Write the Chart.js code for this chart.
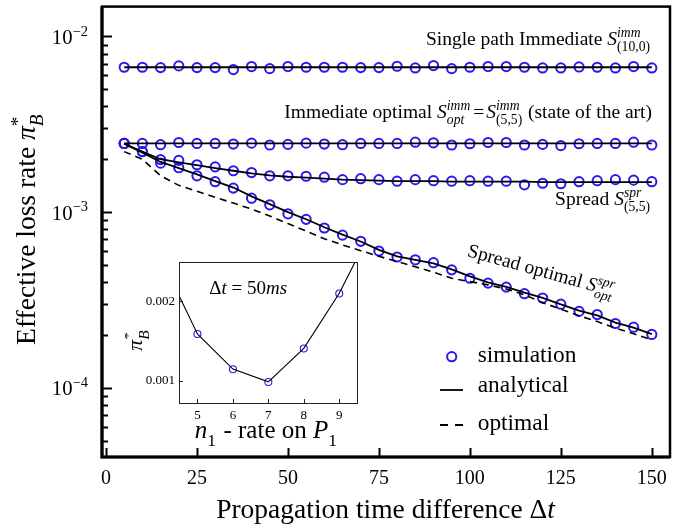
<!DOCTYPE html>
<html>
<head>
<meta charset="utf-8">
<script src="https://cdn.jsdelivr.net/npm/chart.js@4.4.0/dist/chart.umd.min.js"></script>
<style>
  html, body { margin: 0; padding: 0; background: #fff; }
  #wrap { position: relative; width: 697px; height: 529px; }
  #mainChart { position: absolute; left: 0; top: 0; }
  #insetChart { position: absolute; left: 125px; top: 250px; }
</style>
</head>
<body>
<div id="wrap">
  <canvas id="mainChart" width="697" height="529"></canvas>
  <canvas id="insetChart" width="245" height="200"></canvas>
</div>
<script>
// values in units of 1e-3
const UNIT = 1e-3;
const deltaT = [5, 10, 15, 20, 25, 30, 35, 40, 45, 50, 55, 60, 65, 70, 75, 80, 85, 90, 95, 100, 105, 110, 115, 120, 125, 130, 135, 140, 145, 150];

// Single path Immediate S(10,0)
const singleAnalytic = [6.68, 6.68, 6.68, 6.68, 6.68, 6.68, 6.68, 6.68, 6.68, 6.68, 6.68, 6.68, 6.68, 6.68, 6.68, 6.68, 6.68, 6.68, 6.68, 6.68, 6.68, 6.68, 6.68, 6.68, 6.68, 6.68, 6.68, 6.68, 6.68, 6.68];
const singleSim = [6.68, 6.68, 6.65, 6.80, 6.65, 6.65, 6.48, 6.74, 6.56, 6.74, 6.68, 6.68, 6.68, 6.65, 6.65, 6.77, 6.62, 6.83, 6.56, 6.68, 6.74, 6.74, 6.68, 6.62, 6.62, 6.71, 6.68, 6.62, 6.74, 6.62];

// Immediate optimal = S(5,5)
const immOptAnalytic = [2.46, 2.46, 2.46, 2.46, 2.46, 2.46, 2.46, 2.46, 2.46, 2.46, 2.46, 2.46, 2.46, 2.46, 2.46, 2.46, 2.46, 2.46, 2.46, 2.46, 2.46, 2.46, 2.46, 2.46, 2.46, 2.46, 2.46, 2.46, 2.46, 2.46];
const immOptSim = [2.46, 2.46, 2.42, 2.49, 2.46, 2.46, 2.44, 2.47, 2.41, 2.43, 2.47, 2.44, 2.42, 2.46, 2.46, 2.46, 2.50, 2.48, 2.41, 2.45, 2.49, 2.49, 2.41, 2.43, 2.39, 2.45, 2.46, 2.46, 2.50, 2.41];

// Spread S(5,5)
const spreadAnalytic = [2.45, 2.21, 2.00, 1.92, 1.85, 1.78, 1.72, 1.66, 1.62, 1.59, 1.57, 1.55, 1.53, 1.52, 1.51, 1.50, 1.50, 1.50, 1.49, 1.49, 1.49, 1.49, 1.49, 1.48, 1.48, 1.48, 1.48, 1.48, 1.48, 1.48];
const spreadSim = [2.46, 2.21, 1.99, 1.97, 1.86, 1.81, 1.72, 1.68, 1.61, 1.61, 1.60, 1.58, 1.53, 1.55, 1.53, 1.50, 1.53, 1.51, 1.50, 1.51, 1.50, 1.50, 1.43, 1.46, 1.45, 1.49, 1.51, 1.53, 1.52, 1.49];

// Spread optimal
const spreadOptAnalytic = [2.45, 2.18, 1.93, 1.78, 1.64, 1.50, 1.38, 1.23, 1.11, 1.00, 0.91, 0.82, 0.745, 0.68, 0.61, 0.56, 0.535, 0.51, 0.472, 0.43, 0.398, 0.375, 0.348, 0.325, 0.298, 0.275, 0.258, 0.235, 0.22, 0.202];
const spreadOptSim = [2.46, 2.21, 1.90, 1.79, 1.61, 1.49, 1.37, 1.20, 1.10, 0.978, 0.909, 0.812, 0.739, 0.682, 0.600, 0.555, 0.535, 0.515, 0.469, 0.420, 0.394, 0.374, 0.343, 0.324, 0.299, 0.272, 0.261, 0.232, 0.221, 0.201];

// optimal (dashed)
const optimalDashed = [2.21, 2.00, 1.61, 1.42, 1.315, 1.215, 1.125, 1.04, 0.95, 0.86, 0.78, 0.705, 0.65, 0.603, 0.56, 0.523, 0.488, 0.455, 0.42, 0.402, 0.385, 0.365, 0.338, 0.305, 0.28, 0.257, 0.238, 0.218, 0.203, 0.187];

const xTickValues = [0, 25, 50, 75, 100, 125, 150];
const yMajorExp = [-4, -3, -2];

// inset: delta t = 50 ms
const n1Line = [4, 5, 6, 7, 8, 9, 10];
const insetLine = [0.00252, 0.00159, 0.00115, 0.00099, 0.00141, 0.0021, 0.00298];
const n1Sim = [5, 6, 7, 8, 9];
const insetSim = [0.00159, 0.001147, 0.000987, 0.001407, 0.002097];
const insetXTicks = [5, 6, 7, 8, 9];
const insetYTicks = [0.001, 0.002];

const BLUE = "rgb(40,25,240)";
const SERIF = '"Liberation Serif", "DejaVu Serif", serif';

// ---- rich text helper (italic, sup/sub) ----
function font(size, it) {
    return (it ? "italic " : "") + size + "px " + SERIF;
}
function segWidth(ctx, s, size) {
    if (s.gap) return s.gap;
    if (s.sup !== undefined || s.sub !== undefined) {
        const ss = size * 0.7;
        let w1 = 0, w2 = 0;
        if (s.sup) { ctx.font = font(ss, s.supIt !== false); w1 = ctx.measureText(s.sup).width; }
        if (s.sub) { ctx.font = font(ss, !!s.subIt); w2 = ctx.measureText(s.sub).width; }
        return Math.max(w1, w2) + size * 0.05;
    }
    ctx.font = font(size, s.i);
    return ctx.measureText(s.t).width;
}
function drawRich(ctx, segs, x, y, size, align) {
    const total = segs.reduce((w, s) => w + segWidth(ctx, s, size), 0);
    let cx = align === "right" ? x - total : align === "center" ? x - total / 2 : x;
    ctx.textAlign = "left";
    ctx.textBaseline = "alphabetic";
    ctx.fillStyle = "#000";
    segs.forEach((s) => {
        const w = segWidth(ctx, s, size);
        if (s.gap) {
            // spacing only
        } else if (s.sup !== undefined || s.sub !== undefined) {
            const ss = size * 0.7;
            if (s.sup) { ctx.font = font(ss, s.supIt !== false); ctx.fillText(s.sup, cx, y - size * 0.4); }
            if (s.sub) { ctx.font = font(ss, !!s.subIt); ctx.fillText(s.sub, cx, y + size * 0.3); }
        } else {
            ctx.font = font(size, s.i);
            ctx.fillText(s.t, cx, y);
        }
        cx += w;
    });
}

const isMajor = (v) => Math.abs(Math.log10(v) - Math.round(Math.log10(v))) < 1e-6;

// ---- main chart decorations ----
const mainDecor = {
    id: "mainDecor",
    afterDraw(chart) {
        const { ctx, chartArea: a, scales: { x, y } } = chart;
        ctx.save();
        ctx.strokeStyle = "#000";
        ctx.lineWidth = 2;
        y.ticks.forEach((t) => {
            const py = Math.round(y.getPixelForValue(t.value)) + 0.5;
            const len = isMajor(t.value) ? 10 : 6;
            ctx.beginPath();
            ctx.moveTo(a.left, py);
            ctx.lineTo(a.left + len, py);
            ctx.stroke();
        });
        x.ticks.forEach((t) => {
            const px = Math.round(x.getPixelForValue(t.value)) + 0.5;
            ctx.beginPath();
            ctx.moveTo(px, a.bottom);
            ctx.lineTo(px, a.bottom - 9);
            ctx.stroke();
        });
        // frame
        ctx.lineWidth = 2.5;
        ctx.strokeRect(a.left, a.top, a.right - a.left, a.bottom - a.top);
        ctx.lineWidth = 3.2;
        ctx.beginPath();
        ctx.moveTo(a.left, a.top);
        ctx.lineTo(a.left, a.bottom);
        ctx.lineTo(a.right, a.bottom);
        ctx.stroke();

        // y tick labels 10^-n
        yMajorExp.forEach((e) => {
            const py = y.getPixelForValue(Math.pow(10, e));
            drawRich(ctx, [{ t: "10" }, { sup: "\u2212" + Math.abs(e), supIt: false }], 89, py + 7.5, 20.7, "right");
        });

        // axis titles
        drawRich(ctx, [{ t: "Propagation time difference \u0394" }, { t: "t", i: 1 }], 385.5, 518, 27.5, "center");
        ctx.save();
        ctx.translate(35, 229);
        ctx.rotate(-Math.PI / 2);
        drawRich(ctx, [{ t: "Effective loss rate " }, { t: "\u03c0", i: 1 }, { sup: "*", supIt: false, sub: "B", subIt: true }], 0, 0, 27.5, "center");
        ctx.restore();

        // annotations
        drawRich(ctx, [{ t: "Single path Immediate " }, { t: "S", i: 1 }, { sup: "imm", sub: "(10,0)" }], 651, 45, 19.5, "right");
        drawRich(ctx, [{ t: "Immediate optimal " }, { t: "S", i: 1 }, { sup: "imm", sub: "opt", subIt: true }, { gap: 2 }, { t: "=" }, { gap: 2 }, { t: "S", i: 1 }, { sup: "imm", sub: "(5,5)" }, { t: " (state of the art)" }], 652, 118, 19.5, "right");
        drawRich(ctx, [{ t: "Spread " }, { t: "S", i: 1 }, { sup: "spr", sub: "(5,5)" }], 651, 205, 19.5, "right");
        ctx.save();
        ctx.translate(466.5, 256);
        ctx.rotate(15.5 * Math.PI / 180);
        drawRich(ctx, [{ t: "Spread optimal " }, { t: "S", i: 1 }, { sup: "spr", sub: "opt", subIt: true }], 0, 0, 19.5, "left");
        ctx.restore();

        // legend
        ctx.strokeStyle = BLUE;
        ctx.lineWidth = 2;
        ctx.beginPath();
        ctx.arc(451.7, 356.7, 4.6, 0, Math.PI * 2);
        ctx.stroke();
        ctx.strokeStyle = "#000";
        ctx.lineWidth = 1.8;
        ctx.beginPath();
        ctx.moveTo(440, 390);
        ctx.lineTo(463, 390);
        ctx.stroke();
        ctx.setLineDash([8, 7]);
        ctx.beginPath();
        ctx.moveTo(440, 425);
        ctx.lineTo(463, 425);
        ctx.stroke();
        ctx.setLineDash([]);
        drawRich(ctx, [{ t: "simulation" }], 477.7, 361.7, 23.4, "left");
        drawRich(ctx, [{ t: "analytical" }], 477.7, 391.7, 23.4, "left");
        drawRich(ctx, [{ t: "optimal" }], 477.7, 430, 23.4, "left");
        ctx.restore();
    },
};

const toPts = (ys) => deltaT.map((x, i) => ({ x: x, y: ys[i] * UNIT }));
const solidLine = (ys) => ({
    data: toPts(ys),
    borderColor: "#000",
    borderWidth: 1.8,
    pointRadius: 0,
    fill: false,
    tension: 0,
});
const simPoints = (ys) => ({
    data: toPts(ys),
    showLine: false,
    pointRadius: 4.6,
    pointBorderColor: BLUE,
    pointBackgroundColor: "rgba(0,0,0,0)",
    pointBorderWidth: 2,
});

const yMin = 4.03e-5, yMax = 1.48e-2;
const yTickValues = [];
[1e-5, 1e-4, 1e-3, 1e-2].forEach((d) => {
    for (let m = 1; m <= 9; m++) {
        const v = m * d;
        if (v >= yMin && v <= yMax) yTickValues.push(v);
    }
});

new Chart(document.getElementById("mainChart"), {
    type: "line",
    data: {
        datasets: [
            solidLine(singleAnalytic),
            solidLine(immOptAnalytic),
            solidLine(spreadAnalytic),
            solidLine(spreadOptAnalytic),
            { ...solidLine(optimalDashed), borderDash: [7, 5], borderWidth: 1.6 },
            simPoints(singleSim),
            simPoints(immOptSim),
            simPoints(spreadSim),
            simPoints(spreadOptSim),
        ],
    },
    options: {
        responsive: false,
        animation: false,
        layout: { padding: { top: 3, right: 27, left: 0, bottom: 0 } },
        plugins: { legend: { display: false }, tooltip: { enabled: false } },
        scales: {
            x: {
                type: "linear",
                min: -1.1,
                max: 155,
                afterBuildTicks: (s) => { s.ticks = xTickValues.map((v) => ({ value: v })); },
                afterFit: (s) => { s.height = 72; },
                grid: { display: false, drawTicks: false },
                border: { display: false },
                ticks: { color: "#000", font: { family: SERIF, size: 20 }, padding: 10, maxRotation: 0, autoSkip: false },
            },
            y: {
                type: "logarithmic",
                min: yMin,
                max: yMax,
                afterBuildTicks: (s) => { s.ticks = yTickValues.map((v) => ({ value: v })); },
                afterFit: (s) => { s.width = 102; },
                grid: { display: false, drawTicks: false },
                border: { display: false },
                ticks: { display: false },
            },
        },
    },
    plugins: [mainDecor],
});

// ---- inset ----
const insetDecor = {
    id: "insetDecor",
    beforeDraw(chart) {
        const { ctx, chartArea: a } = chart;
        ctx.save();
        ctx.fillStyle = "#fff";
        ctx.fillRect(a.left, a.top, a.right - a.left, a.bottom - a.top);
        ctx.restore();
    },
    afterDraw(chart) {
        const { ctx, chartArea: a, scales: { x, y } } = chart;
        ctx.save();
        ctx.strokeStyle = "#222";
        ctx.lineWidth = 1;
        y.ticks.forEach((t) => {
            const py = Math.round(y.getPixelForValue(t.value)) + 0.5;
            ctx.beginPath();
            ctx.moveTo(a.left, py);
            ctx.lineTo(a.left + 4, py);
            ctx.stroke();
        });
        x.ticks.forEach((t) => {
            const px = Math.round(x.getPixelForValue(t.value)) + 0.5;
            ctx.beginPath();
            ctx.moveTo(px, a.bottom);
            ctx.lineTo(px, a.bottom - 4);
            ctx.stroke();
        });
        ctx.strokeRect(Math.round(a.left) + 0.5, Math.round(a.top) + 0.5, Math.round(a.right - a.left), Math.round(a.bottom - a.top));

        drawRich(ctx, [{ t: "\u0394" }, { t: "t", i: 1 }, { t: " = 50" }, { t: "ms", i: 1 }], 84.3, 44.3, 19, "left");
        drawRich(ctx, [{ t: "n", i: 1 }, { sub: "1" }, { t: " - rate on " }, { t: "P", i: 1 }, { sub: "1" }], 141.5, 188, 25, "center");
        ctx.save();
        ctx.translate(17, 90);
        ctx.rotate(-Math.PI / 2);
        drawRich(ctx, [{ t: "\u03c0", i: 1 }, { sup: "*", supIt: false, sub: "B", subIt: true }], 0, 0, 22, "center");
        ctx.restore();
        ctx.restore();
    },
};

new Chart(document.getElementById("insetChart"), {
    type: "line",
    data: {
        datasets: [
            {
                data: n1Line.map((x, i) => ({ x: x, y: insetLine[i] })),
                borderColor: "#000",
                borderWidth: 1.1,
                pointRadius: 0,
                fill: false,
                tension: 0,
            },
            {
                data: n1Sim.map((x, i) => ({ x: x, y: insetSim[i] })),
                showLine: false,
                pointRadius: 3.5,
                pointBorderColor: BLUE,
                pointBackgroundColor: "rgba(0,0,0,0)",
                pointBorderWidth: 1.1,
            },
        ],
    },
    options: {
        responsive: false,
        animation: false,
        layout: { padding: { top: 12, right: 13, left: 0, bottom: 0 } },
        plugins: { legend: { display: false }, tooltip: { enabled: false } },
        scales: {
            x: {
                type: "linear",
                min: 4.48,
                max: 9.5,
                afterBuildTicks: (s) => { s.ticks = insetXTicks.map((v) => ({ value: v })); },
                afterFit: (s) => { s.height = 47; },
                grid: { display: false, drawTicks: false },
                border: { display: false },
                ticks: { color: "#000", font: { family: SERIF, size: 13 }, padding: 5, maxRotation: 0, autoSkip: false },
            },
            y: {
                min: 0.000724,
                max: 0.002493,
                afterBuildTicks: (s) => { s.ticks = insetYTicks.map((v) => ({ value: v })); },
                afterFit: (s) => { s.width = 54; },
                grid: { display: false, drawTicks: false },
                border: { display: false },
                ticks: { color: "#000", font: { family: SERIF, size: 13 }, padding: 4, callback: (v) => v.toFixed(3) },
            },
        },
    },
    plugins: [insetDecor],
});
</script>
</body>
</html>
